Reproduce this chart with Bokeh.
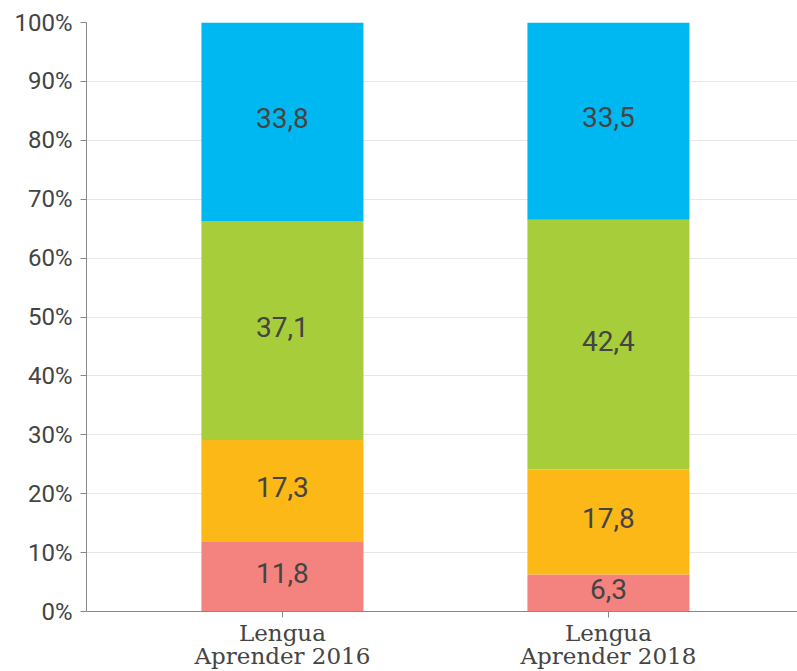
from bokeh.plotting import figure
from bokeh.models import ColumnDataSource, FixedTicker, PrintfTickFormatter, Range1d
from bokeh.core.properties import value
from bokeh.embed import file_html
from bokeh.resources import INLINE

categories = ["Lengua\nAprender 2016", "Lengua\nAprender 2018"]
nivel1 = [11.8, 6.3]
nivel2 = [17.3, 17.8]
nivel3 = [37.1, 42.4]
nivel4 = [33.8, 33.5]
series_names = ["nivel1", "nivel2", "nivel3", "nivel4"]
colors = ["#F4837F", "#FBB816", "#A8CD3A", "#00B8F1"]
y_ticks = [0, 10, 20, 30, 40, 50, 60, 70, 80, 90, 100]

xs = list(range(len(categories)))
data = dict(x=xs, nivel1=nivel1, nivel2=nivel2, nivel3=nivel3, nivel4=nivel4)
src = ColumnDataSource(data)

p = figure(width=797, height=671, output_backend="svg", toolbar_location=None,
           x_range=Range1d(-0.601, 1.580), y_range=Range1d(0, 100),
           min_border_left=86, min_border_top=22, min_border_right=0, min_border_bottom=55)
p.outline_line_color = None
p.background_fill_color = "white"

p.vbar_stack(series_names, x="x", width=0.497, color=colors, source=src, line_color=None)

# labels at the middle of each segment
lx, ly, lt = [], [], []
for i in range(len(categories)):
    base = 0.0
    for s in [nivel1, nivel2, nivel3, nivel4]:
        v = s[i]
        lx.append(xs[i])
        ly.append(base + v / 2)
        lt.append(f"{v:.1f}".replace(".", ","))
        base += v
lsrc = ColumnDataSource(dict(x=lx, y=ly, t=lt))
p.text(x="x", y="y", text="t", source=lsrc, text_align="center", text_baseline="middle",
       y_offset=-4,
       text_font=value("Roboto"), text_font_size="28px", text_color="#444444")

p.xgrid.grid_line_color = None
p.ygrid.grid_line_color = "#e6e6e6"
p.ygrid.grid_line_width = 1

p.yaxis.ticker = FixedTicker(ticks=y_ticks)
p.yaxis.formatter = PrintfTickFormatter(format="%d%%")
p.yaxis.major_label_text_font = "Roboto"
p.yaxis.major_label_text_font_size = "24px"
p.yaxis.major_label_text_color = "#444444"
p.yaxis.axis_line_color = "#888888"
p.yaxis.major_tick_line_color = "#888888"
p.yaxis.major_tick_out = 6
p.yaxis.major_tick_in = 0
p.yaxis.minor_tick_line_color = None
p.yaxis.major_label_standoff = 8

p.xaxis.ticker = FixedTicker(ticks=xs)
p.xaxis.major_label_overrides = {i: c for i, c in zip(xs, categories)}
p.xaxis.major_label_text_font = "DejaVu Serif"
p.xaxis.major_label_text_font_size = "23px"
p.xaxis.major_label_text_color = "#444444"
p.xaxis.major_label_text_line_height = 0.9
p.xaxis.axis_line_color = "#888888"
p.xaxis.major_tick_line_color = "#888888"
p.xaxis.major_tick_out = 6
p.xaxis.major_tick_in = 0
p.xaxis.minor_tick_line_color = None
p.xaxis.major_label_standoff = 2

open("out.html", "w").write(file_html(p, INLINE))
